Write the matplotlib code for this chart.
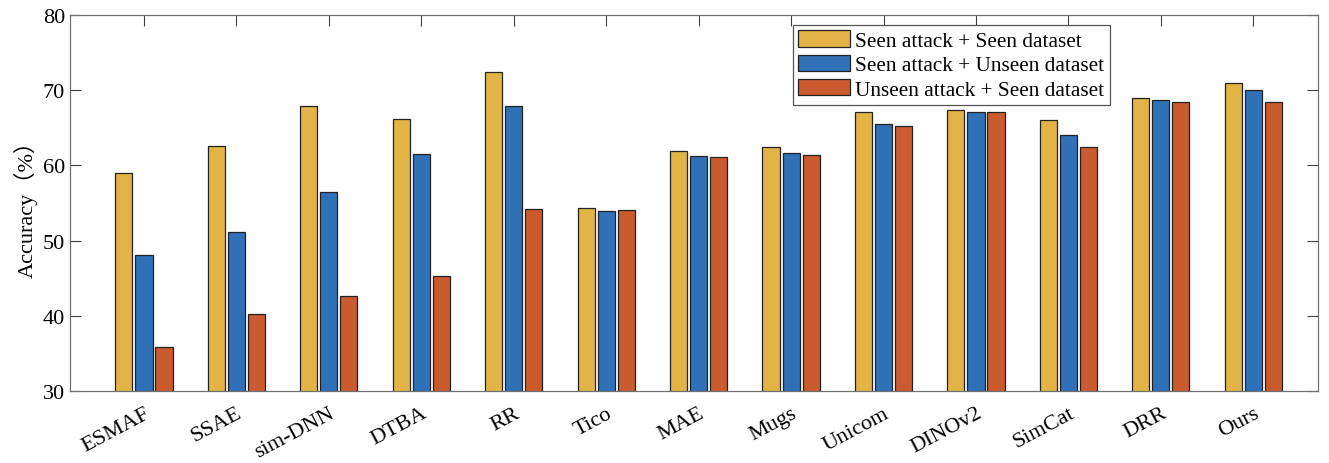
import matplotlib.pyplot as plt
import numpy as np

plt.rcParams['font.family'] = ['Liberation Serif', 'Noto Sans CJK SC']

methods = ['ESMAF', 'SSAE', 'sim-DNN', 'DTBA', 'RR', 'Tico', 'MAE', 'Mugs',
           'Unicom', 'DINOv2', 'SimCat', 'DRR', 'Ours']
seen_seen = [59.0, 62.6, 67.9, 66.2, 72.4, 54.4, 61.9, 62.4, 67.1, 67.4, 66.0, 68.9, 71.0]
seen_unseen = [48.1, 51.1, 56.4, 61.5, 67.9, 53.9, 61.2, 61.6, 65.5, 67.1, 64.0, 68.7, 70.0]
unseen_seen = [35.8, 40.2, 42.6, 45.3, 54.2, 54.1, 61.1, 61.4, 65.3, 67.1, 62.4, 68.4, 68.4]
labels = ['Seen attack + Seen dataset', 'Seen attack + Unseen dataset',
          'Unseen attack + Seen dataset']
colors = ['#E3B445', '#2F70B7', '#CA5B2F']

fig = plt.figure(figsize=(13.29, 4.64), dpi=100)
ax = fig.add_axes([70/1329, 1 - 392/464, 1248/1329, 376/464])

x = np.arange(1, len(methods) + 1)
step = 0.217
w = 0.185
for i, vals in enumerate([seen_seen, seen_unseen, unseen_seen]):
    ax.bar(x + (i - 1) * step, vals, w, color=colors[i], edgecolor='#222222',
           linewidth=0.9, label=labels[i], zorder=2)

ax.set_xlim(0.2, 13.7)
ax.set_ylim(30, 80)
ax.set_yticks([30, 40, 50, 60, 70, 80])
ax.set_xticks(x)
ax.set_xticklabels(methods, rotation=28, ha='right', rotation_mode='anchor')
ax.tick_params(axis='both', direction='in', length=8, width=0.8, color='#404040',
               labelsize=16, top=True, right=True)
ax.tick_params(axis='x', pad=9)
ax.set_ylabel('Accuracy（%）', fontsize=16, labelpad=4)
for s in ax.spines.values():
    s.set_color('#707070')
    s.set_linewidth(0.9)

leg = ax.legend(loc='upper left', bbox_to_anchor=(0.579, 0.973), fontsize=15.3,
                fancybox=False, edgecolor='#555555', framealpha=1,
                handlelength=2.45, handleheight=0.8, handletextpad=0.25,
                labelspacing=0.18, borderpad=0.25, borderaxespad=0)
leg.get_frame().set_linewidth(0.9)

fig.savefig('out.png', dpi=100)
